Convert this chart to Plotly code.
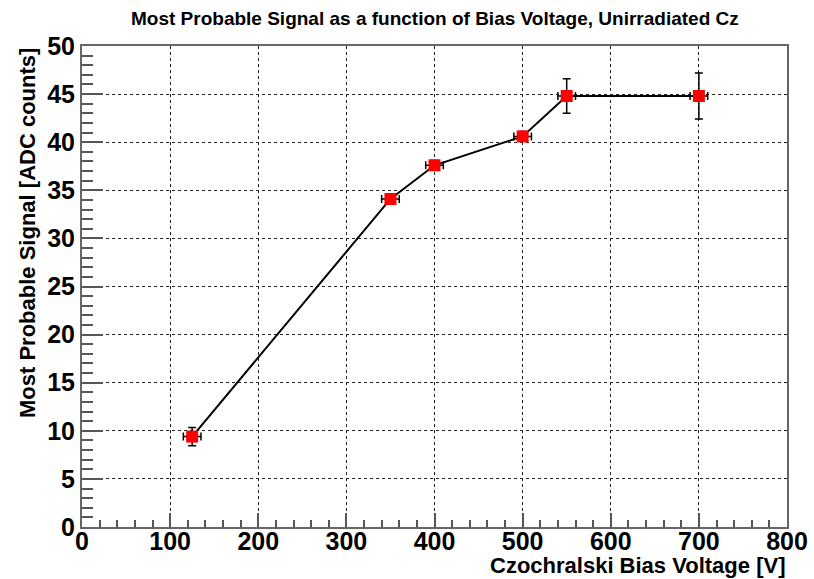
import plotly.graph_objects as go

voltage = [125, 350, 400, 500, 550, 700]
signal = [9.4, 34.1, 37.6, 40.6, 44.8, 44.8]
signal_err = [0.95, 0.5, 0.5, 0.5, 1.8, 2.4]
voltage_err = [10, 10, 10, 10, 10, 10]

title_text = "Most Probable Signal as a function of Bias Voltage, Unirradiated Cz"
x_title = "Czochralski Bias Voltage [V]"
y_title = "Most Probable Signal [ADC counts]"

FONT = "Liberation Sans, Arial, sans-serif"

fig = go.Figure()
fig.add_trace(go.Scatter(
    x=voltage, y=signal, mode="lines+markers",
    line=dict(color="black", width=2),
    marker=dict(symbol="square", color="#ff0000", size=12, line=dict(width=0)),
    error_y=dict(type="data", array=signal_err, color="black", thickness=1.5, width=4),
    error_x=dict(type="data", array=voltage_err, color="black", thickness=1.5, width=4),
    showlegend=False,
))

axis_common = dict(
    showline=True, linecolor="#666666", linewidth=2, mirror=True,
    ticks="inside", tickcolor="#555555", tickwidth=1.5,
    showgrid=True, gridcolor="#222222", griddash="3px,3px", gridwidth=1,
    zeroline=False, automargin=False,
    tickfont=dict(family=FONT, size=25, color="black", weight="bold"),
)

fig.update_xaxes(range=[0, 800], dtick=100, tick0=0, ticklen=14, ticklabelstandoff=-9,
                 minor=dict(dtick=20, ticklen=7, ticks="inside", tickcolor="#555555", showgrid=False),
                 **axis_common)
fig.update_yaxes(range=[0, 50], dtick=5, tick0=0, ticklen=21,
                 minor=dict(dtick=1, ticklen=11, ticks="inside", tickcolor="#555555", showgrid=False),
                 **axis_common)

fig.update_layout(
    width=814, height=579,
    margin=dict(l=82, r=27, t=46, b=52),
    paper_bgcolor="white", plot_bgcolor="white",
    annotations=[
        dict(text=title_text, xref="paper", yref="paper", x=0.5, y=1.0, yshift=28,
             xanchor="center", yanchor="middle", showarrow=False,
             font=dict(family=FONT, size=19, color="black", weight="bold")),
        dict(text=x_title, xref="paper", yref="paper", x=1.0, y=0, yshift=-38,
             xanchor="right", yanchor="middle", showarrow=False,
             font=dict(family=FONT, size=22, color="black", weight="bold")),
        dict(text=y_title, xref="paper", yref="paper", x=0, xshift=-55, y=1.0,
             xanchor="center", yanchor="top", textangle=-90, showarrow=False,
             font=dict(family=FONT, size=22, color="black", weight="bold")),
    ],
)

fig.write_html("out.html")
